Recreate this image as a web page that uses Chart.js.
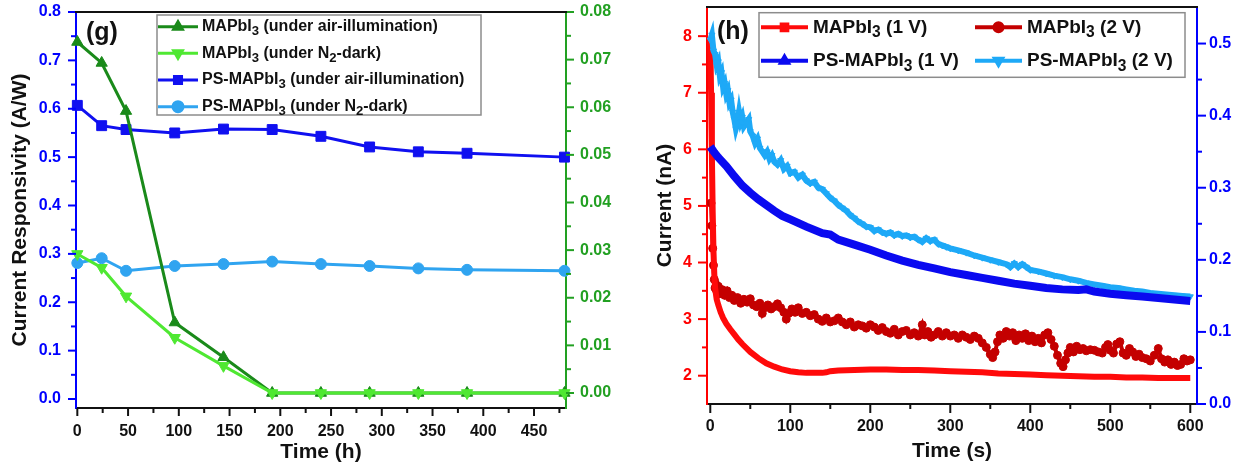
<!DOCTYPE html>
<html><head><meta charset="utf-8">
<script src="https://cdn.jsdelivr.net/npm/chart.js@4.4.1/dist/chart.umd.min.js"></script>
<style>
html,body{margin:0;padding:0;background:#fff;width:1248px;height:467px;overflow:hidden}
#g{position:absolute;left:0;top:0}
#h{position:absolute;left:620px;top:0}
</style></head><body>
<canvas id="g" width="620" height="467"></canvas>
<canvas id="h" width="628" height="467"></canvas>
<script>
// ---------------- data: panel (g) ----------------
const gTime = [0, 24, 48, 96, 144, 192, 240, 288, 336, 384, 480];
const gMAPbI3Air = [0.0737, 0.0693, 0.0592, 0.0148, 0.0075, 0, 0, 0, 0, 0, 0];
const gMAPbI3N2 = [0.0292, 0.0263, 0.0203, 0.0116, 0.0057, 0, 0, 0, 0, 0, 0];
const gPSAir = [0.607, 0.565, 0.557, 0.550, 0.558, 0.557, 0.543, 0.521, 0.511, 0.508, 0.500];
const gPSN2 = [0.281, 0.291, 0.265, 0.275, 0.279, 0.284, 0.279, 0.275, 0.270, 0.267, 0.265];
const gLabels = ['MAPbI₃ (under air-illumination)', 'MAPbI₃ (under N₂-dark)', 'PS-MAPbI₃ (under air-illumination)', 'PS-MAPbI₃ (under N₂-dark)'];
const gXMajor = [0, 50, 100, 150, 200, 250, 300, 350, 400, 450];
const gXTickLabels = ['0', '50', '100', '150', '200', '250', '300', '350', '400', '450'];
const gYMajor = [0, 0.1, 0.2, 0.3, 0.4, 0.5, 0.6, 0.7, 0.8];
const gYTickLabels = ['0.0', '0.1', '0.2', '0.3', '0.4', '0.5', '0.6', '0.7', '0.8'];
const gY2Major = [0, 0.01, 0.02, 0.03, 0.04, 0.05, 0.06, 0.07, 0.08];
const gY2TickLabels = ['0.00', '0.01', '0.02', '0.03', '0.04', '0.05', '0.06', '0.07', '0.08'];

// ---------------- data: panel (h) [time s, value] ----------------
const hMAPbI3_1V = [[0,7.95],[1,7.0],[2,5.9],[3,4.9],[4,4.2],[5,3.8],[6,3.55],[8,3.35],[10,3.25],[13,3.12],[16,3.02],[20,2.92],[25,2.82],[30,2.73],[35,2.64],[40,2.56],[50,2.42],[60,2.31],[70,2.22],[80,2.16],[90,2.11],[100,2.08],[110,2.06],[120,2.05],[130,2.05],[140,2.05],[145,2.06],[150,2.08],[160,2.09],[180,2.1],[200,2.11],[220,2.11],[240,2.1],[260,2.1],[280,2.09],[300,2.08],[320,2.07],[340,2.06],[360,2.04],[380,2.03],[400,2.02],[420,2.01],[440,2.0],[460,1.99],[480,1.98],[500,1.98],[520,1.97],[540,1.97],[560,1.96],[580,1.96],[600,1.96]];
const hMAPbI3_2V = [[1,5.05],[2,4.65],[3,4.25],[4,3.95],[5,3.7],[6,3.55],[8,3.5],[10,3.58],[12,3.45],[15,3.52],[18,3.42],[21,3.5],[24,3.38],[27,3.42],[30,3.33],[34,3.38],[38,3.28],[42,3.35],[46,3.3],[50,3.36],[54,3.25],[58,3.22],[62,3.28],[65,3.1],[68,3.2],[72,3.25],[76,3.18],[80,3.22],[84,3.27],[88,3.2],[92,3.12],[95,3.0],[98,3.1],[102,3.18],[106,3.12],[110,3.2],[115,3.1],[120,3.12],[125,3.06],[130,3.08],[135,3.0],[140,2.96],[145,3.02],[150,2.95],[155,2.97],[160,3.02],[165,2.95],[170,2.9],[175,2.95],[180,2.86],[185,2.9],[190,2.88],[195,2.84],[200,2.9],[205,2.86],[210,2.8],[215,2.85],[220,2.78],[225,2.75],[230,2.82],[235,2.72],[240,2.78],[245,2.8],[250,2.72],[255,2.76],[260,2.7],[265,2.9],[268,2.72],[272,2.78],[276,2.68],[280,2.72],[285,2.78],[290,2.7],[295,2.76],[300,2.7],[305,2.72],[310,2.66],[315,2.72],[320,2.68],[325,2.64],[330,2.7],[335,2.66],[340,2.58],[345,2.5],[350,2.38],[353,2.32],[356,2.42],[359,2.6],[362,2.72],[366,2.66],[370,2.78],[374,2.7],[378,2.76],[382,2.62],[386,2.72],[390,2.66],[394,2.74],[398,2.62],[402,2.7],[406,2.6],[410,2.66],[414,2.58],[418,2.72],[422,2.76],[426,2.64],[430,2.52],[434,2.36],[438,2.22],[441,2.16],[444,2.28],[447,2.4],[450,2.5],[454,2.42],[458,2.52],[462,2.46],[466,2.48],[470,2.44],[475,2.46],[480,2.45],[485,2.42],[490,2.4],[494,2.5],[497,2.55],[500,2.45],[504,2.4],[508,2.56],[512,2.6],[516,2.4],[520,2.36],[524,2.48],[528,2.42],[532,2.34],[536,2.38],[540,2.32],[545,2.3],[550,2.26],[555,2.36],[560,2.48],[564,2.3],[568,2.24],[572,2.28],[576,2.2],[580,2.24],[584,2.18],[588,2.2],[592,2.3],[596,2.26],[600,2.28]];
const hPS_1V = [[0,0.357],[5,0.349],[10,0.342],[20,0.330],[30,0.316],[40,0.303],[50,0.293],[60,0.284],[70,0.276],[80,0.268],[90,0.261],[100,0.256],[120,0.246],[140,0.237],[150,0.235],[160,0.228],[180,0.221],[200,0.214],[220,0.206],[240,0.199],[260,0.193],[280,0.188],[300,0.183],[320,0.179],[340,0.175],[360,0.171],[380,0.167],[400,0.164],[420,0.161],[440,0.159],[460,0.158],[470,0.159],[480,0.156],[500,0.153],[520,0.151],[540,0.149],[560,0.147],[580,0.145],[600,0.143]];
const hPS_2V = [[0,0.505],[2,0.512],[4,0.49],[6,0.485],[8,0.47],[10,0.475],[12,0.455],[14,0.46],[16,0.44],[18,0.445],[20,0.43],[22,0.435],[24,0.418],[26,0.422],[28,0.405],[30,0.395],[32,0.382],[34,0.39],[36,0.405],[38,0.392],[40,0.398],[42,0.385],[45,0.39],[48,0.395],[50,0.378],[53,0.372],[56,0.362],[59,0.368],[62,0.355],[65,0.35],[68,0.345],[71,0.35],[74,0.34],[77,0.345],[80,0.336],[84,0.332],[88,0.338],[92,0.326],[96,0.33],[100,0.32],[105,0.322],[110,0.314],[115,0.318],[120,0.31],[125,0.306],[130,0.308],[135,0.3],[140,0.298],[145,0.292],[150,0.286],[155,0.282],[160,0.276],[165,0.272],[170,0.268],[175,0.262],[180,0.258],[185,0.253],[190,0.25],[195,0.246],[200,0.245],[205,0.24],[210,0.242],[215,0.238],[220,0.236],[225,0.238],[230,0.234],[235,0.236],[240,0.233],[245,0.234],[250,0.231],[255,0.232],[260,0.228],[265,0.225],[270,0.23],[275,0.226],[280,0.228],[285,0.222],[290,0.22],[295,0.218],[300,0.216],[310,0.213],[320,0.21],[330,0.206],[340,0.203],[350,0.2],[360,0.197],[370,0.194],[375,0.19],[380,0.195],[385,0.19],[390,0.194],[395,0.19],[400,0.186],[410,0.184],[420,0.181],[430,0.178],[440,0.176],[450,0.173],[460,0.171],[470,0.168],[480,0.166],[490,0.164],[500,0.162],[510,0.161],[520,0.159],[530,0.157],[540,0.156],[550,0.154],[560,0.153],[570,0.152],[580,0.151],[590,0.15],[600,0.149]];
const hLabels = ['MAPbI₃ (1 V)', 'MAPbI₃ (2 V)', 'PS-MAPbI₃ (1 V)', 'PS-MAPbI₃ (2 V)'];
const hXMajor = [0, 100, 200, 300, 400, 500, 600];
const hXTickLabels = ['0', '100', '200', '300', '400', '500', '600'];
const hYMajor = [2, 3, 4, 5, 6, 7, 8];
const hYTickLabels = ['2', '3', '4', '5', '6', '7', '8'];
const hY2Major = [0, 0.1, 0.2, 0.3, 0.4, 0.5];
const hY2TickLabels = ['0.0', '0.1', '0.2', '0.3', '0.4', '0.5'];

// ---------------- helpers ----------------
const FAM = '"Liberation Sans", Arial, sans-serif';
const tickFont = {family: FAM, size: 16, weight: 'bold'};
const titleFont = {family: FAM, size: 21, weight: 'bold'};

function mids(major, extra) {
  const out = [];
  for (let i = 0; i < major.length - 1; i++) out.push((major[i] + major[i + 1]) / 2);
  return out.concat(extra || []);
}
function mkScale(o) {
  return {
    type: 'linear', position: o.pos, min: o.min, max: o.max, bounds: 'data',
    afterBuildTicks: s => {
      s.ticks = o.major.map(v => ({value: v}))
        .concat(o.minor.map(v => ({value: v, isMinor: true})))
        .sort((a, b) => a.value - b.value);
    },
    afterFit: s => {
      if (o.width != null) s.width = o.width;
      if (o.height != null) s.height = o.height;
      s.paddingTop = 0; s.paddingBottom = 0; s.paddingLeft = 0; s.paddingRight = 0;
    },
    ticks: {
      autoSkip: false, maxRotation: 0, minRotation: 0, padding: o.pad, color: o.color, font: tickFont,
      callback: v => { const i = o.major.findIndex(m => Math.abs(m - v) < 1e-9); return i >= 0 ? o.labels[i] : ''; }
    },
    grid: {drawOnChartArea: false, drawTicks: true, tickLength: o.tl, tickWidth: 2, tickColor: 'rgba(0,0,0,0)'},
    border: {display: true, color: o.color, width: 2},
    title: o.title ? {display: true, text: o.title, color: '#111', font: titleFont, padding: o.titlePad} : {display: false}
  };
}
function drawRich(ctx, text, x, y, size) {
  const subs = '₀₁₂₃₄₅₆₇₈₉';
  const runs = [];
  for (const ch of text) {
    const k = subs.indexOf(ch);
    const isSub = k >= 0;
    const c = isSub ? String(k) : ch;
    if (runs.length && runs[runs.length - 1].sub === isSub) runs[runs.length - 1].t += c;
    else runs.push({t: c, sub: isSub});
  }
  let cx = x;
  ctx.textAlign = 'left'; ctx.textBaseline = 'middle';
  for (const r of runs) {
    const fs = r.sub ? size * 0.82 : size;
    ctx.font = 'bold ' + fs + 'px ' + FAM;
    ctx.fillText(r.t, cx, y + (r.sub ? size * 0.3 : 0));
    cx += ctx.measureText(r.t).width;
  }
}
const decor = {
  id: 'decor',
  afterDraw(chart, args, opts) {
    const ctx = chart.ctx, a = chart.chartArea;
    ctx.save();
    // tick marks (major long, minor short, pointing outward)
    opts.axes.forEach(o => {
      const s = chart.scales[o.id];
      ctx.strokeStyle = o.color; ctx.lineWidth = 2; ctx.setLineDash([]);
      const vals = o.major.map(v => [v, false]).concat(o.minor.map(v => [v, true]));
      vals.forEach(([v, minor]) => {
        const len = minor ? 4 : o.tl;
        const p = s.getPixelForValue(v);
        ctx.beginPath();
        if (o.pos === 'left') { ctx.moveTo(a.left - len - 1, p); ctx.lineTo(a.left, p); }
        else if (o.pos === 'right') { ctx.moveTo(a.right, p); ctx.lineTo(a.right + len + 1, p); }
        else { ctx.moveTo(p, a.bottom); ctx.lineTo(p, a.bottom + len + 1); }
        ctx.stroke();
      });
    });
    // top frame line
    ctx.strokeStyle = '#111'; ctx.lineWidth = 2;
    ctx.beginPath(); ctx.moveTo(a.left - 1, a.top); ctx.lineTo(a.right + 1, a.top); ctx.stroke();
    // panel label
    ctx.fillStyle = '#111'; ctx.font = 'bold 25px ' + FAM; ctx.textAlign = 'left'; ctx.textBaseline = 'middle';
    ctx.fillText(opts.panel, opts.panelX, opts.panelY);
    // legend
    const L = opts.legend;
    ctx.fillStyle = '#fff'; ctx.fillRect(L.x, L.y, L.w, L.h);
    ctx.strokeStyle = '#8c8c8c'; ctx.lineWidth = 1.5; ctx.strokeRect(L.x, L.y, L.w, L.h);
    L.items.forEach(it => {
      const ds = chart.data.datasets[it.ds];
      ctx.strokeStyle = ds.borderColor; ctx.lineWidth = L.lw;
      ctx.beginPath(); ctx.moveTo(it.x, it.y); ctx.lineTo(it.x + L.len, it.y); ctx.stroke();
      ctx.fillStyle = ds.borderColor; ctx.strokeStyle = ds.borderColor;
      Chart.helpers.drawPoint(ctx, {pointStyle: ds.pointStyle, rotation: ds.pointRotation || 0, radius: L.r, borderWidth: 1}, it.x + L.len / 2, it.y);
      ctx.fillStyle = '#111';
      drawRich(ctx, ds.label, it.x + L.len + L.gap, it.y, L.fs);
    });
    ctx.restore();
  }
};

// ---------------- chart (g) ----------------
const gAxX = {id: 'x', pos: 'bottom', min: -1.3, max: 481.5, major: gXMajor, labels: gXTickLabels, minor: mids(gXMajor, [475]), color: '#111', tl: 7, pad: 7, height: 59, title: 'Time (h)', titlePad: {top: 0, bottom: 2}};
const gAxY = {id: 'y', pos: 'left', min: -0.0186, max: 0.8, major: gYMajor, labels: gYTickLabels, minor: mids(gYMajor), color: '#0000ff', tl: 7, pad: 8, width: 76, title: 'Current Responsivity (A/W)', titlePad: {top: 8, bottom: 0}};
const gAxY2 = {id: 'y2', pos: 'right', min: -0.00315, max: 0.08, major: gY2Major, labels: gY2TickLabels, minor: mids(gY2Major), color: '#22a022', tl: 7, pad: 7, width: 54};
const gPts = arr => gTime.map((t, i) => ({x: t, y: arr[i]}));
new Chart(document.getElementById('g'), {
  type: 'line',
  data: {datasets: [
    {label: gLabels[0], data: gPts(gMAPbI3Air), yAxisID: 'y2', borderColor: '#1a8a1a', backgroundColor: '#1a8a1a', borderWidth: 3, pointStyle: 'triangle', pointRadius: 6.5, pointBorderWidth: 1, order: 1, clip: false},
    {label: gLabels[1], data: gPts(gMAPbI3N2), yAxisID: 'y2', borderColor: '#4fe832', backgroundColor: '#4fe832', borderWidth: 3, pointStyle: 'triangle', pointRotation: 180, pointRadius: 6.5, pointBorderWidth: 1, order: 0, clip: false},
    {label: gLabels[2], data: gPts(gPSAir), yAxisID: 'y', borderColor: '#1010f0', backgroundColor: '#1010f0', borderWidth: 3, pointStyle: 'rect', pointRadius: 7, pointBorderWidth: 1, order: 2, clip: false},
    {label: gLabels[3], data: gPts(gPSN2), yAxisID: 'y', borderColor: '#30a4f0', backgroundColor: '#30a4f0', borderWidth: 3, pointStyle: 'circle', pointRadius: 5.5, pointBorderWidth: 1, order: 3, clip: false}
  ]},
  options: {
    responsive: false, animation: false, devicePixelRatio: 1,
    layout: {padding: {top: 12, left: 0, right: 0, bottom: 0}},
    elements: {line: {tension: 0}},
    plugins: {
      legend: {display: false}, tooltip: {enabled: false},
      decor: {panel: '(g)', panelX: 86, panelY: 33, axes: [gAxX, gAxY, gAxY2],
        legend: {x: 157, y: 15, w: 324, h: 100, len: 40, gap: 4, lw: 3, r: 5, fs: 16,
          items: [{ds: 0, x: 158, y: 26.7}, {ds: 1, x: 158, y: 53.3}, {ds: 2, x: 158, y: 80}, {ds: 3, x: 158, y: 106.7}]}}
    },
    scales: {x: mkScale(gAxX), y: mkScale(gAxY), y2: mkScale(gAxY2)}
  },
  plugins: [decor]
});

// ---------------- chart (h) ----------------
const hAxX = {id: 'x', pos: 'bottom', min: -4.1, max: 608.4, major: hXMajor, labels: hXTickLabels, minor: mids(hXMajor), color: '#111', tl: 8, pad: 5, height: 63, title: 'Time (s)', titlePad: {top: 0, bottom: 3}};
const hAxY = {id: 'y', pos: 'left', min: 1.5, max: 8.515, major: hYMajor, labels: hYTickLabels, minor: mids(hYMajor), color: '#ff0000', tl: 8, pad: 7, width: 87, title: 'Current (nA)', titlePad: {top: 33, bottom: 0}};
const hAxY2 = {id: 'y2', pos: 'right', min: 0, max: 0.5507, major: hY2Major, labels: hY2TickLabels, minor: mids(hY2Major), color: '#0000ff', tl: 8, pad: 4, width: 51};
const hPts = arr => arr.map(p => ({x: p[0], y: p[1]}));
new Chart(document.getElementById('h'), {
  type: 'line',
  data: {datasets: [
    {label: hLabels[0], data: hPts(hMAPbI3_1V), yAxisID: 'y', borderColor: '#ff0a0a', backgroundColor: '#ff0a0a', borderWidth: 6, pointStyle: 'rect', pointRadius: 0, order: 2},
    {label: hLabels[1], data: hPts(hMAPbI3_2V), yAxisID: 'y', borderColor: '#c40000', backgroundColor: '#c40000', borderWidth: 4, pointStyle: 'circle', pointRadius: 4, pointBorderWidth: 1, order: 3},
    {label: hLabels[2], data: hPts(hPS_1V), yAxisID: 'y2', borderColor: '#0a0af0', backgroundColor: '#0a0af0', borderWidth: 8, pointStyle: 'triangle', pointRadius: 0, order: 0},
    {label: hLabels[3], data: hPts(hPS_2V), yAxisID: 'y2', borderColor: '#1ea9f7', backgroundColor: '#1ea9f7', borderWidth: 6, pointStyle: 'triangle', pointRotation: 180, pointRadius: 3.5, pointBorderWidth: 1, order: 1}
  ]},
  options: {
    responsive: false, animation: false, devicePixelRatio: 1,
    layout: {padding: {top: 7, left: 0, right: 0, bottom: 0}},
    elements: {line: {tension: 0}},
    plugins: {
      legend: {display: false}, tooltip: {enabled: false},
      decor: {panel: '(h)', panelX: 97, panelY: 32, axes: [hAxX, hAxY, hAxY2],
        legend: {x: 139, y: 12.7, w: 426, h: 64.6, len: 47, gap: 5, lw: 4, r: 4, fs: 19,
          items: [{ds: 0, x: 141, y: 27.3}, {ds: 1, x: 355, y: 27.3}, {ds: 2, x: 141, y: 60.7}, {ds: 3, x: 355, y: 60.7}]}}
    },
    scales: {x: mkScale(hAxX), y: mkScale(hAxY), y2: mkScale(hAxY2)}
  },
  plugins: [decor]
});
</script>
</body></html>
